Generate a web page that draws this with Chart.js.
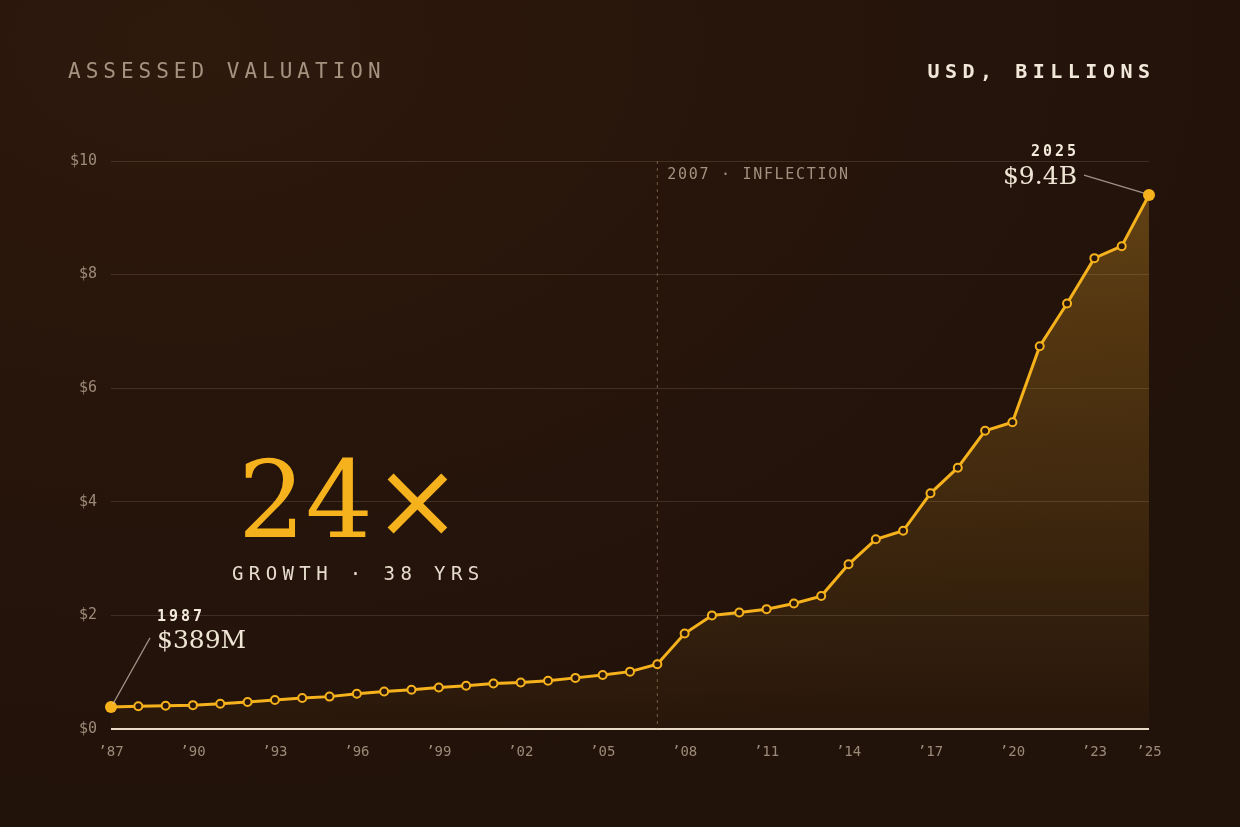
<!DOCTYPE html>
<html>
<head>
<meta charset="utf-8">
<script src="https://cdn.jsdelivr.net/npm/chart.js@4.4.1/dist/chart.umd.min.js"></script>
<style>
  html, body { margin: 0; padding: 0; }
  body {
    width: 1240px; height: 827px; overflow: hidden;
    background: radial-gradient(ellipse 95% 95% at 15% 5%, #2e190d 0%, #27150b 45%, #21120a 100%);
  }
</style>
</head>
<body>
<canvas id="valuationChart" width="1240" height="827"></canvas>
<script>
// assessed valuation, USD billions
const years = [1987, 1988, 1989, 1990, 1991, 1992, 1993, 1994, 1995, 1996,
  1997, 1998, 1999, 2000, 2001, 2002, 2003, 2004, 2005, 2006,
  2007, 2008, 2009, 2010, 2011, 2012, 2013, 2014, 2015, 2016,
  2017, 2018, 2019, 2020, 2021, 2022, 2023, 2024, 2025];
const valuation = [0.389, 0.40, 0.41, 0.42, 0.445, 0.475, 0.51, 0.545, 0.57, 0.62,
  0.66, 0.69, 0.73, 0.76, 0.80, 0.82, 0.85, 0.90, 0.95, 1.01,
  1.14, 1.68, 2.00, 2.05, 2.11, 2.21, 2.34, 2.90, 3.34, 3.49,
  4.15, 4.60, 5.25, 5.40, 6.74, 7.49, 8.29, 8.50, 9.40];
const shownYears = [1987, 1990, 1993, 1996, 1999, 2002, 2005, 2008, 2011, 2014, 2017, 2020, 2023, 2025];
const yTicks = [0, 2, 4, 6, 8, 10];
const inflectionYear = 2007;

const MONO = 'DejaVu Sans Mono';
const SERIF = 'DejaVu Serif';
const GOLD = '#f6b21d';
const last = valuation.length - 1;

function spacedText(ctx, text, x, y, spacing, align) {
    let total = 0;
    for (const ch of text) total += ctx.measureText(ch).width + spacing;
    total -= spacing;
    let cx = align === 'right' ? x - total : x;
    ctx.textAlign = 'left';
    for (const ch of text) {
        ctx.fillText(ch, cx, y);
        cx += ctx.measureText(ch).width + spacing;
    }
}

const annotations = {
    id: 'annotations',
    beforeDatasetsDraw(chart) {
        const ctx = chart.ctx;
        const area = chart.chartArea;
        const x = chart.scales.x.getPixelForValue(years.indexOf(inflectionYear));
        ctx.save();
        ctx.strokeStyle = 'rgba(190,160,130,0.5)';
        ctx.lineWidth = 1;
        ctx.setLineDash([3, 4]);
        ctx.beginPath();
        ctx.moveTo(x, area.top);
        ctx.lineTo(x, area.bottom);
        ctx.stroke();
        ctx.setLineDash([]);
        ctx.fillStyle = '#a39180';
        ctx.font = '15px "' + MONO + '"';
        ctx.textBaseline = 'middle';
        spacedText(ctx, inflectionYear + ' · INFLECTION', x + 10, area.top + 14, 1.7, 'left');
        ctx.restore();
    },
    afterDraw(chart) {
        const ctx = chart.ctx;
        const meta = chart.getDatasetMeta(0);
        const p0 = meta.data[0];
        const pN = meta.data[last];
        ctx.save();

        // header
        ctx.textBaseline = 'middle';
        ctx.fillStyle = '#a5927f';
        ctx.font = '21px "' + MONO + '"';
        spacedText(ctx, 'ASSESSED VALUATION', 68, 73, 5, 'left');
        ctx.fillStyle = '#f2e8da';
        ctx.font = 'bold 20px "' + MONO + '"';
        spacedText(ctx, 'USD, BILLIONS', 1150, 73, 5.5, 'right');

        // big multiple
        const growth = Math.round(valuation[last] / valuation[0]);
        ctx.fillStyle = GOLD;
        ctx.font = '106px "' + SERIF + '"';
        ctx.textBaseline = 'alphabetic';
        ctx.textAlign = 'left';
        ctx.fillText(growth + '×', 238, 537);
        ctx.fillStyle = '#e6dccd';
        ctx.font = '19px "' + MONO + '"';
        ctx.textBaseline = 'middle';
        spacedText(ctx, 'GROWTH · ' + (years[last] - years[0]) + ' YRS', 232, 575, 5.4, 'left');

        // leader lines
        ctx.strokeStyle = 'rgba(215,200,185,0.7)';
        ctx.lineWidth = 1.2;
        ctx.beginPath();
        ctx.moveTo(p0.x + 39, p0.y - 69);
        ctx.lineTo(p0.x + 2, p0.y - 3);
        ctx.moveTo(pN.x - 65, pN.y - 20);
        ctx.lineTo(pN.x - 5, pN.y - 2);
        ctx.stroke();

        // first point label
        ctx.fillStyle = '#f3eadc';
        ctx.font = 'bold 15px "' + MONO + '"';
        ctx.textBaseline = 'middle';
        spacedText(ctx, String(years[0]), p0.x + 46, p0.y - 90, 3, 'left');
        ctx.fillStyle = '#efe5d5';
        ctx.font = '25px "' + SERIF + '"';
        ctx.textBaseline = 'alphabetic';
        ctx.textAlign = 'left';
        ctx.fillText('$' + Math.round(valuation[0] * 1000) + 'M', p0.x + 46, p0.y - 59);

        // last point label
        ctx.fillStyle = '#f3eadc';
        ctx.font = 'bold 15px "' + MONO + '"';
        ctx.textBaseline = 'middle';
        spacedText(ctx, String(years[last]), pN.x - 73, pN.y - 43, 3, 'right');
        ctx.fillStyle = '#efe5d5';
        ctx.font = '25px "' + SERIF + '"';
        ctx.textBaseline = 'alphabetic';
        ctx.textAlign = 'right';
        ctx.fillText('$' + valuation[last].toFixed(1) + 'B', pN.x - 72, pN.y - 11);

        ctx.restore();
    }
};

const ctx = document.getElementById('valuationChart').getContext('2d');
const valuationChart = new Chart(ctx, {
    type: 'line',
    data: {
        labels: years,
        datasets: [{
            data: valuation,
            borderColor: GOLD,
            borderWidth: 3,
            tension: 0,
            clip: false,
            fill: 'start',
            backgroundColor: function (context) {
                const area = context.chart.chartArea;
                if (!area) return 'transparent';
                const g = context.chart.ctx.createLinearGradient(0, area.top, 0, area.bottom);
                g.addColorStop(0, 'rgba(240,170,40,0.32)');
                g.addColorStop(1, 'rgba(240,170,40,0.03)');
                return g;
            },
            pointRadius: function (c) { return (c.dataIndex === 0 || c.dataIndex === last) ? 6 : 4; },
            pointBorderWidth: function (c) { return (c.dataIndex === 0 || c.dataIndex === last) ? 0 : 2; },
            pointBackgroundColor: function (c) { return (c.dataIndex === 0 || c.dataIndex === last) ? GOLD : '#2a170c'; },
            pointBorderColor: GOLD,
            pointHoverRadius: 6
        }]
    },
    options: {
        responsive: false,
        animation: false,
        devicePixelRatio: 1,
        layout: {
            padding: { left: 51, right: 91, top: 161, bottom: 57 }
        },
        scales: {
            x: {
                type: 'category',
                offset: false,
                grid: { display: false },
                border: { display: false },
                ticks: {
                    autoSkip: false,
                    maxRotation: 0,
                    padding: 7,
                    color: '#9c8a79',
                    font: { family: MONO, size: 14 },
                    callback: function (value, index) {
                        const y = years[index];
                        return shownYears.includes(y) ? '’' + String(y).slice(2) : null;
                    }
                },
                afterFit: function (scale) { scale.height = 41; }
            },
            y: {
                min: 0,
                max: 10,
                afterBuildTicks: function (scale) {
                    scale.ticks = yTicks.map(function (v) { return { value: v }; });
                },
                grid: {
                    drawTicks: false,
                    color: function (c) { return c.tick.value === 0 ? '#e8dccb' : 'rgba(255,230,200,0.13)'; },
                    lineWidth: function (c) { return c.tick.value === 0 ? 2 : 1; }
                },
                border: { display: false },
                ticks: {
                    padding: 14,
                    color: '#9c8a79',
                    font: { family: MONO, size: 15 },
                    callback: function (value) { return '$' + value; }
                },
                afterFit: function (scale) { scale.width = 60; }
            }
        },
        plugins: {
            legend: { display: false },
            tooltip: { enabled: false }
        }
    },
    plugins: [annotations]
});
</script>
</body>
</html>
